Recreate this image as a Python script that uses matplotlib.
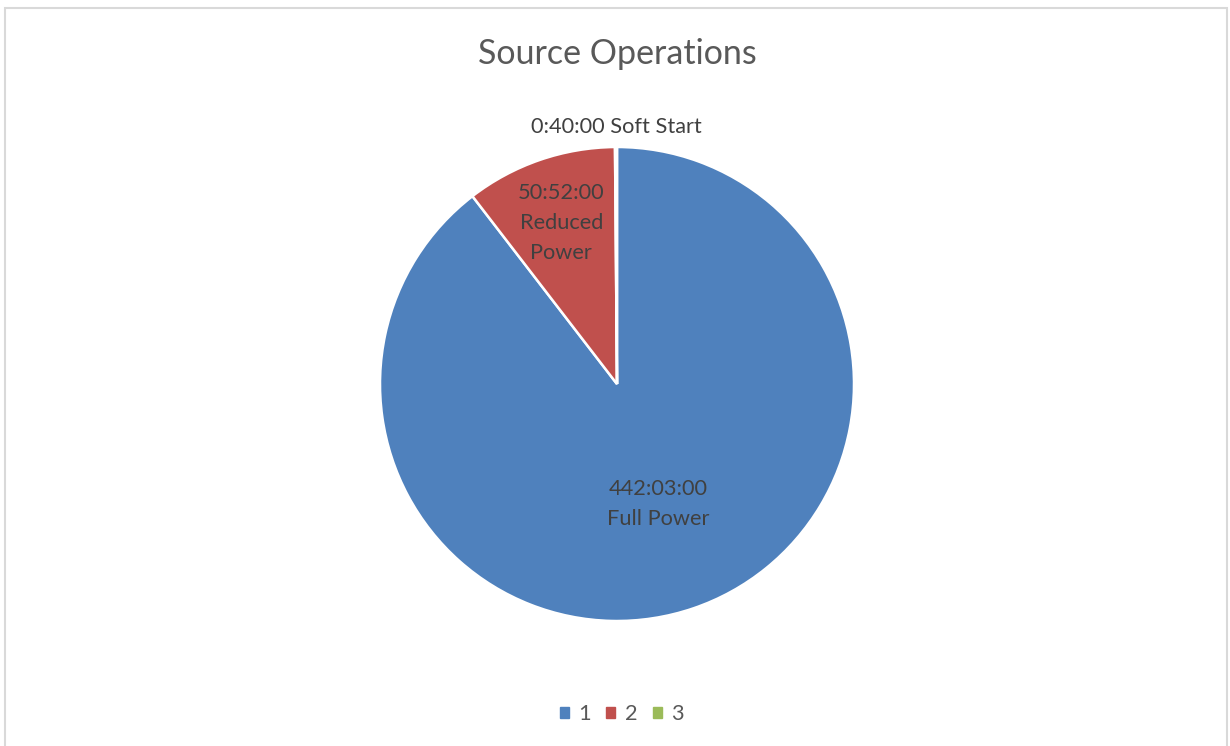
import numpy as np
import matplotlib.pyplot as plt
from matplotlib.patches import Rectangle

# durations in hours
categories = ["1", "2", "3"]
names = ["Full Power", "Reduced Power", "Soft Start"]
time_labels = ["442:03:00", "50:52:00", "0:40:00"]
hours = [442 + 3 / 60, 50 + 52 / 60, 40 / 60]
colors = ["#4F81BD", "#C0504D", "#9BBB59"]

plt.rcParams['font.family'] = ['Lato', 'DejaVu Sans']

W, H = 1230, 746
fig = plt.figure(figsize=(W / 100, H / 100), dpi=100)

# chart area border
fig.patches.append(Rectangle((5 / W, -0.01), (1227 - 5) / W, (H - 8) / H + 0.01,
                             transform=fig.transFigure, fill=False,
                             edgecolor="#d9d9d9", linewidth=1.5))

cx, cy, r = 617, 384, 237
ax = fig.add_axes([(cx - r) / W, (H - cy - r) / H, 2 * r / W, 2 * r / H])

wedges, _ = ax.pie(hours, colors=colors, startangle=90, counterclock=False,
                   radius=1, wedgeprops=dict(edgecolor="white", linewidth=1.8))
ax.set_xlim(-1, 1)
ax.set_ylim(-1, 1)
ax.set_aspect("equal")
ax.axis("off")

txt = "#404040"
label_dist = [0.535, 0.72, 1.085]
label_text = [time_labels[0] + "\n" + "Full Power",
              time_labels[1] + "\nReduced\nPower",
              time_labels[2] + " " + names[2]]
for w, d, t in zip(wedges, label_dist, label_text):
    mid = np.deg2rad((w.theta1 + w.theta2) / 2)
    ax.text(d * np.cos(mid), d * np.sin(mid), t, ha="center", va="center",
            fontsize=15.7, color=txt, linespacing=1.62, clip_on=False)

fig.text(617 / W, 1 - 54 / H, "Source Operations", ha="center", va="center",
         fontsize=24.5, color="#595959")

handles = [Rectangle((0, 0), 1, 1, color=c) for c in colors]
fig.legend(handles, categories, loc="center", bbox_to_anchor=(622 / W, 1 - 714 / H),
           ncol=3, frameon=False, fontsize=15.7, handlelength=0.4, handleheight=0.4,
           handletextpad=0.45, columnspacing=0.7, labelcolor="#595959")

fig.savefig("out.png", dpi=100)
